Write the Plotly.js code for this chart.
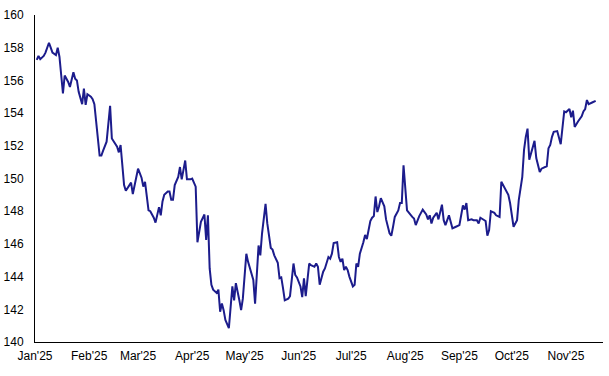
<!DOCTYPE html>
<html>
<head>
<meta charset="utf-8">
<script src="https://cdn.plot.ly/plotly-3.0.1.min.js"></script>
<style>html,body{margin:0;padding:0;background:#fff;}#chart{width:609px;height:376px;}</style>
</head>
<body>
<div id="chart"></div>
<script>
const dates = [
"2025-01-02","2025-01-03","2025-01-04","2025-01-06","2025-01-07","2025-01-09","2025-01-10","2025-01-11","2025-01-13","2025-01-14",
"2025-01-15","2025-01-16","2025-01-17","2025-01-18","2025-01-20","2025-01-21","2025-01-23","2025-01-24","2025-01-25","2025-01-26",
"2025-01-28","2025-01-29","2025-01-30","2025-01-31","2025-02-02","2025-02-03","2025-02-04","2025-02-07","2025-02-08","2025-02-09",
"2025-02-11","2025-02-13","2025-02-14","2025-02-17","2025-02-18","2025-02-19","2025-02-21","2025-02-22","2025-02-25","2025-02-26",
"2025-03-01","2025-03-03","2025-03-04","2025-03-05","2025-03-07","2025-03-08","2025-03-10","2025-03-11","2025-03-12","2025-03-13",
"2025-03-14","2025-03-15","2025-03-16","2025-03-18","2025-03-19","2025-03-20","2025-03-21","2025-03-22","2025-03-24","2025-03-25",
"2025-03-26","2025-03-27","2025-03-28","2025-03-29","2025-03-31","2025-04-01","2025-04-03","2025-04-04","2025-04-05","2025-04-06",
"2025-04-08","2025-04-09","2025-04-10","2025-04-11","2025-04-12","2025-04-13","2025-04-15","2025-04-16","2025-04-17","2025-04-18",
"2025-04-19","2025-04-20","2025-04-22","2025-04-24","2025-04-25","2025-04-26","2025-04-28","2025-04-29","2025-04-30","2025-05-02",
"2025-05-03","2025-05-05","2025-05-06","2025-05-07","2025-05-08","2025-05-09","2025-05-10","2025-05-11","2025-05-13","2025-05-14",
"2025-05-16","2025-05-17","2025-05-18","2025-05-20","2025-05-21","2025-05-22","2025-05-23","2025-05-24","2025-05-26","2025-05-27",
"2025-05-29","2025-05-30","2025-05-31","2025-06-02","2025-06-03","2025-06-04","2025-06-05","2025-06-07","2025-06-08","2025-06-10",
"2025-06-11","2025-06-12","2025-06-13","2025-06-14","2025-06-15","2025-06-16","2025-06-18","2025-06-19","2025-06-20","2025-06-21",
"2025-06-23","2025-06-24","2025-06-25","2025-06-26","2025-06-27","2025-06-28","2025-06-29","2025-06-30","2025-07-02","2025-07-03",
"2025-07-04","2025-07-05","2025-07-06","2025-07-08","2025-07-09","2025-07-10","2025-07-12","2025-07-13","2025-07-14","2025-07-15",
"2025-07-16","2025-07-17","2025-07-18","2025-07-20","2025-07-21","2025-07-23","2025-07-24","2025-07-25","2025-07-26","2025-07-28",
"2025-07-29","2025-07-30","2025-07-31","2025-08-02","2025-08-03","2025-08-05","2025-08-06","2025-08-07","2025-08-09","2025-08-11",
"2025-08-13","2025-08-14","2025-08-15","2025-08-16","2025-08-17","2025-08-19","2025-08-20","2025-08-22","2025-08-23","2025-08-24",
"2025-08-26","2025-08-27","2025-08-28","2025-08-30","2025-09-01","2025-09-03","2025-09-04","2025-09-05","2025-09-06","2025-09-08",
"2025-09-09","2025-09-11","2025-09-12","2025-09-13","2025-09-15","2025-09-16","2025-09-17","2025-09-18","2025-09-19","2025-09-21",
"2025-09-22","2025-09-24","2025-09-25","2025-09-27","2025-09-29","2025-09-30","2025-10-01","2025-10-02","2025-10-04","2025-10-05",
"2025-10-07","2025-10-08","2025-10-09","2025-10-10","2025-10-11","2025-10-12","2025-10-14","2025-10-15","2025-10-17","2025-10-18",
"2025-10-21","2025-10-22","2025-10-23","2025-10-24","2025-10-25","2025-10-27","2025-10-29","2025-10-31","2025-11-01","2025-11-03",
"2025-11-04","2025-11-05","2025-11-06","2025-11-08","2025-11-10","2025-11-11","2025-11-12","2025-11-13","2025-11-14","2025-11-16",
"2025-11-18"
];
const values = [
157.25,157.5,157.3,157.5,157.7,158.3,158.0,157.7,157.55,158.0,
157.45,156.2,155.2,156.3,155.9,155.6,156.5,156.1,156.0,155.3,
154.55,155.5,154.5,155.15,155.0,154.85,154.55,151.4,151.4,151.7,
152.25,154.45,152.45,151.95,151.6,152.05,149.6,149.25,149.75,149.05,
150.6,150.05,149.5,149.8,148.05,148.0,147.6,147.3,147.85,148.25,
147.75,148.6,149.0,149.2,149.2,148.7,148.7,149.6,150.1,150.7,
149.95,150.6,151.1,149.95,149.95,150.0,149.5,146.1,146.9,147.35,
147.8,146.25,147.75,144.5,143.5,143.2,143.0,143.2,141.85,142.35,
141.95,141.35,140.85,143.4,142.55,143.6,142.55,141.95,142.65,145.4,
144.9,144.25,143.8,142.35,144.2,145.9,145.3,146.65,148.45,147.25,
145.75,145.65,145.3,144.85,143.9,143.95,143.3,142.55,142.65,142.8,
144.8,144.1,143.95,143.4,142.75,143.9,142.8,144.8,144.7,144.6,
144.8,144.6,143.5,144.0,144.3,144.5,145.2,145.1,145.4,146.05,
146.1,145.2,144.9,145.1,144.4,144.6,144.4,144.0,143.4,143.5,
144.8,144.6,145.4,146.1,146.55,146.3,147.4,147.6,147.7,148.9,
147.95,148.3,148.8,148.3,147.5,146.65,146.5,147.05,147.65,148.05,
148.5,148.5,150.8,148.05,147.9,147.65,147.55,147.15,147.7,148.1,
147.8,147.5,147.75,147.25,147.6,147.9,147.5,148.4,147.45,147.15,
147.75,147.35,146.95,147.05,147.15,148.35,148.1,148.5,147.45,147.5,
147.45,147.45,147.25,147.6,147.5,147.4,146.5,146.85,148.0,147.9,
147.75,147.65,149.8,149.4,149.0,148.5,147.75,147.05,147.45,148.7,
150.1,151.75,152.55,153.05,151.15,151.6,152.3,151.25,150.4,150.6,
150.75,151.85,152.05,152.55,152.85,152.9,152.1,154.1,154.05,154.25,
153.75,154.15,153.15,153.5,153.8,154.1,154.25,154.8,154.55,154.65,
154.75
];
const tickDates = ["2025-01-01","2025-02-01","2025-03-01","2025-04-01","2025-05-01","2025-06-01","2025-07-01","2025-08-01","2025-09-01","2025-10-01","2025-11-01"];
const tickLabels = ["Jan'25","Feb'25","Mar'25","Apr'25","May'25","Jun'25","Jul'25","Aug'25","Sep'25","Oct'25","Nov'25"];
const yTicks = [140,142,144,146,148,150,152,154,156,158,160];

const trace = {
  x: dates, y: values, type: 'scatter', mode: 'lines',
  line: {color: '#1c1c8c', width: 2}, hoverinfo: 'skip'
};
const layout = {
  width: 609, height: 376,
  margin: {l: 35, r: 6, t: 15, b: 34},
  paper_bgcolor: '#fff', plot_bgcolor: '#fff',
  showlegend: false,
  font: {family: '"Liberation Sans", Arial, sans-serif', size: 12, color: '#000'},
  xaxis: {
    type: 'date', range: ['2025-01-01', '2025-11-22 05:00'],
    tickmode: 'array', tickvals: tickDates, ticktext: tickLabels,
    showgrid: false, zeroline: false, showline: true, linecolor: '#000', linewidth: 1,
    ticks: 'outside', ticklen: 3, tickcolor: 'rgba(0,0,0,0)'
  },
  yaxis: {
    range: [140, 160], tickmode: 'array', tickvals: yTicks,
    showgrid: false, zeroline: false, showline: true, linecolor: '#000', linewidth: 1,
    ticks: 'outside', ticklen: 8, tickcolor: 'rgba(0,0,0,0)'
  }
};
Plotly.newPlot('chart', [trace], layout, {displayModeBar: false, staticPlot: true});
</script>
</body>
</html>
